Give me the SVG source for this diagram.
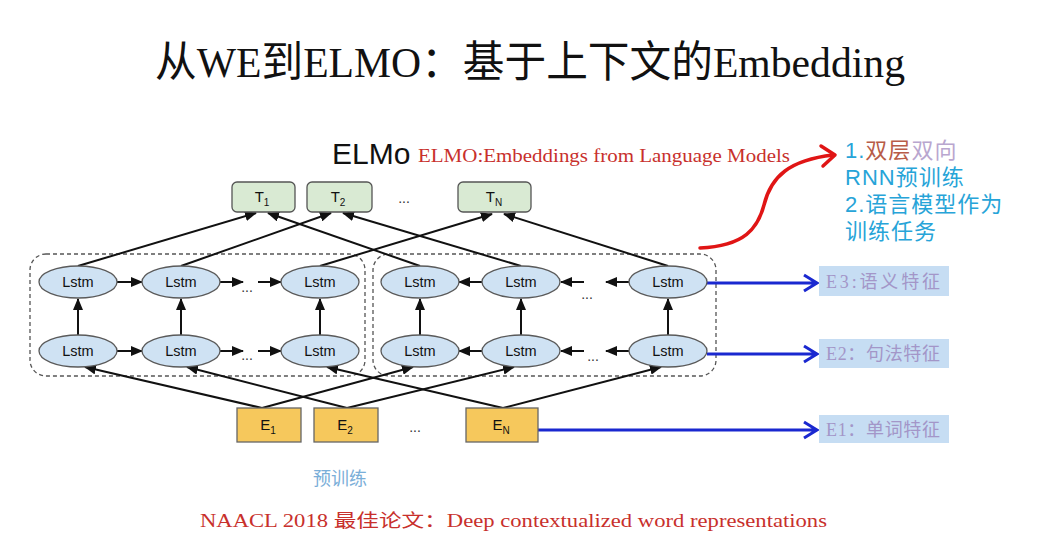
<svg xmlns="http://www.w3.org/2000/svg" width="1055" height="548" viewBox="0 0 1055 548">
<style>
.lstm ellipse{fill:#cfe2f3;stroke:#5a5a5a;stroke-width:1.3}
.lstm text,.box text{font-family:'Liberation Sans',Arial,sans-serif;font-size:14.5px;fill:#111;text-anchor:middle}
.tbox rect{fill:#d9ead3;stroke:#555;stroke-width:1.3}
.ebox rect{fill:#f6c85c;stroke:#666;stroke-width:1.3}
.box text{font-size:15px}
.sub{font-size:10px}
.dots{font-family:'Liberation Sans',Arial,sans-serif;font-size:14px;fill:#333;text-anchor:middle}
.conn line{stroke:#111;stroke-width:2;fill:none}
.blue{stroke:#1a28d0;stroke-width:3;fill:none}
.feat rect{fill:#c6ddf3}
.feat text{font-family:'Liberation Serif','Noto Sans CJK SC',serif;font-size:18px;fill:#a396c8}
.dash{fill:none;stroke:#555;stroke-width:1.3;stroke-dasharray:4 3}
.side{font-family:'Liberation Sans','Noto Sans CJK SC',sans-serif;font-size:22px;fill:#27a4d8;letter-spacing:1px}
.serif{font-family:'Liberation Serif','Noto Sans CJK SC',serif}
</style>
<defs>
<marker id="ah" markerUnits="userSpaceOnUse" markerWidth="12" markerHeight="10" refX="11" refY="5" orient="auto">
<path d="M0,0 L12,5 L0,10 Z" fill="#111"/>
</marker>
</defs>
<rect width="1055" height="548" fill="#fff"/>

<text class="serif" x="155" y="77" font-size="43" fill="#111" textLength="750" lengthAdjust="spacingAndGlyphs">从WE到ELMO：基于上下文的Embedding</text>

<text x="332" y="164" font-family="'Liberation Sans',Arial,sans-serif" font-size="30" fill="#111">ELMo</text>
<text class="serif" x="418" y="162" font-size="18" fill="#c8302c" textLength="372" lengthAdjust="spacingAndGlyphs">ELMO:Embeddings from Language Models</text>

<text class="side" x="845" y="158">1.<tspan fill="#b85c48">双层</tspan><tspan fill="#b9a6cf">双向</tspan></text>
<text class="side" x="845" y="185">RNN预训练</text>
<text class="side" x="845" y="212">2.语言模型作为</text>
<text class="side" x="845" y="239">训练任务</text>

<rect class="dash" x="30" y="254" width="335" height="122" rx="16"/>
<rect class="dash" x="373" y="254" width="343" height="122" rx="16"/>

<g id="connectors" class="conn">
<line x1="78" y1="266" x2="256" y2="213" marker-end="url(#ah)"/>
<line x1="181" y1="266" x2="331" y2="213" marker-end="url(#ah)"/>
<line x1="320" y1="266" x2="492" y2="214" marker-end="url(#ah)"/>
<line x1="420" y1="266" x2="268" y2="213" marker-end="url(#ah)"/>
<line x1="521" y1="266" x2="343" y2="213" marker-end="url(#ah)"/>
<line x1="668" y1="266" x2="504" y2="214" marker-end="url(#ah)"/>
<line x1="262" y1="408" x2="85" y2="367" marker-end="url(#ah)"/>
<line x1="262" y1="408" x2="413" y2="367" marker-end="url(#ah)"/>
<line x1="347" y1="408" x2="187" y2="367" marker-end="url(#ah)"/>
<line x1="347" y1="408" x2="514" y2="367" marker-end="url(#ah)"/>
<line x1="503" y1="408" x2="327" y2="367" marker-end="url(#ah)"/>
<line x1="503" y1="408" x2="661" y2="367" marker-end="url(#ah)"/>
<line x1="78" y1="335" x2="78" y2="299" marker-end="url(#ah)"/>
<line x1="181" y1="335" x2="181" y2="299" marker-end="url(#ah)"/>
<line x1="320" y1="335" x2="320" y2="299" marker-end="url(#ah)"/>
<line x1="420" y1="335" x2="420" y2="299" marker-end="url(#ah)"/>
<line x1="521" y1="335" x2="521" y2="299" marker-end="url(#ah)"/>
<line x1="668" y1="335" x2="668" y2="299" marker-end="url(#ah)"/>
<line x1="117" y1="282" x2="142" y2="282" marker-end="url(#ah)"/>
<line x1="220" y1="282" x2="243" y2="282" marker-end="url(#ah)"/>
<line x1="258" y1="282" x2="281" y2="282" marker-end="url(#ah)"/>
<line x1="117" y1="351" x2="142" y2="351" marker-end="url(#ah)"/>
<line x1="220" y1="351" x2="243" y2="351" marker-end="url(#ah)"/>
<line x1="258" y1="351" x2="281" y2="351" marker-end="url(#ah)"/>
<line x1="482" y1="282" x2="459" y2="282" marker-end="url(#ah)"/>
<line x1="584" y1="282" x2="561" y2="282" marker-end="url(#ah)"/>
<line x1="629" y1="282" x2="606" y2="282" marker-end="url(#ah)"/>
<line x1="482" y1="351" x2="459" y2="351" marker-end="url(#ah)"/>
<line x1="584" y1="351" x2="561" y2="351" marker-end="url(#ah)"/>
<line x1="629" y1="351" x2="606" y2="351" marker-end="url(#ah)"/>
<path class="blue" d="M707,283 H816 M804,275 L817,283 L804,291"/>
<path class="blue" d="M707,354 H816 M804,346 L817,354 L804,362"/>
<path class="blue" d="M538,430 H816 M804,422 L817,430 L804,438"/>
<path d="M700,248 C745,246 758,228 764,205 C771,176 790,160 833,155" fill="none" stroke="#e01515" stroke-width="3.5" stroke-linecap="round"/>
<path d="M821,146 L835,155 L823,166" fill="none" stroke="#e01515" stroke-width="3.5" stroke-linecap="round" stroke-linejoin="round"/>
</g>

<text class="dots" x="247" y="292">...</text>
<text class="dots" x="247" y="360">...</text>
<text class="dots" x="587" y="299">...</text>
<text class="dots" x="593" y="361">...</text>
<text class="dots" x="404" y="203">...</text>
<text class="dots" x="415" y="432">...</text>

<g id="T1" class="box tbox"><rect x="232" y="182" width="63" height="30" rx="5"/><text x="262" y="202">T<tspan class="sub" dy="4">1</tspan></text></g>
<g id="T2" class="box tbox"><rect x="307" y="182" width="65" height="30" rx="5"/><text x="338" y="202">T<tspan class="sub" dy="4">2</tspan></text></g>
<g id="TN" class="box tbox"><rect x="458" y="182" width="73" height="30" rx="5"/><text x="494" y="202">T<tspan class="sub" dy="4">N</tspan></text></g>

<g id="L1f" class="lstm"><ellipse cx="78" cy="282" rx="39" ry="16"/><text x="78" y="287">Lstm</text></g>
<g id="L2f" class="lstm"><ellipse cx="181" cy="282" rx="39" ry="16"/><text x="181" y="287">Lstm</text></g>
<g id="L3f" class="lstm"><ellipse cx="320" cy="282" rx="39" ry="16"/><text x="320" y="287">Lstm</text></g>
<g id="L1b" class="lstm"><ellipse cx="420" cy="282" rx="39" ry="16"/><text x="420" y="287">Lstm</text></g>
<g id="L2b" class="lstm"><ellipse cx="521" cy="282" rx="39" ry="16"/><text x="521" y="287">Lstm</text></g>
<g id="L3b" class="lstm"><ellipse cx="668" cy="282" rx="39" ry="16"/><text x="668" y="287">Lstm</text></g>
<g id="B1f" class="lstm"><ellipse cx="78" cy="351" rx="39" ry="16"/><text x="78" y="356">Lstm</text></g>
<g id="B2f" class="lstm"><ellipse cx="181" cy="351" rx="39" ry="16"/><text x="181" y="356">Lstm</text></g>
<g id="B3f" class="lstm"><ellipse cx="320" cy="351" rx="39" ry="16"/><text x="320" y="356">Lstm</text></g>
<g id="B1b" class="lstm"><ellipse cx="420" cy="351" rx="39" ry="16"/><text x="420" y="356">Lstm</text></g>
<g id="B2b" class="lstm"><ellipse cx="521" cy="351" rx="39" ry="16"/><text x="521" y="356">Lstm</text></g>
<g id="B3b" class="lstm"><ellipse cx="668" cy="351" rx="39" ry="16"/><text x="668" y="356">Lstm</text></g>

<g id="E1" class="box ebox"><rect x="237" y="408" width="64" height="34"/><text x="268" y="430">E<tspan class="sub" dy="4">1</tspan></text></g>
<g id="E2" class="box ebox"><rect x="314" y="408" width="64" height="34"/><text x="345" y="430">E<tspan class="sub" dy="4">2</tspan></text></g>
<g id="EN" class="box ebox"><rect x="466" y="408" width="72" height="34"/><text x="501" y="430">E<tspan class="sub" dy="4">N</tspan></text></g>

<g id="F3" class="feat"><rect x="819" y="266" width="130" height="30"/><text x="826" y="288" textLength="114">E3:语义特征</text></g>
<g id="F2" class="feat"><rect x="819" y="339" width="130" height="29"/><text x="826" y="360" textLength="114">E2：句法特征</text></g>
<g id="F1" class="feat"><rect x="819" y="415" width="130" height="28"/><text x="826" y="436" textLength="114">E1：单词特征</text></g>

<text x="313" y="485" font-family="'Liberation Sans','Noto Sans CJK SC',sans-serif" font-size="18" fill="#7aaed8">预训练</text>

<text class="serif" x="200" y="527" font-size="18" fill="#c8302c" textLength="627" lengthAdjust="spacingAndGlyphs">NAACL 2018 最佳论文：Deep contextualized word representations</text>
</svg>
